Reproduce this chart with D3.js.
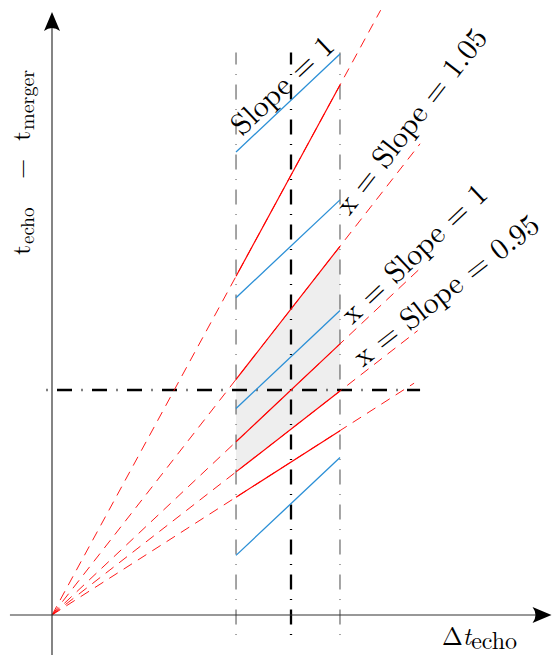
<!DOCTYPE html>
<html>
<head>
<meta charset="utf-8">
<script src="https://cdn.jsdelivr.net/npm/d3@7"></script>
<style>
  html, body { margin: 0; padding: 0; background: #fff; }
  svg { display: block; }
</style>
</head>
<body>
<svg id="chart" width="553" height="656"></svg>
<script>
// ---------------- data (schematic units: x = Δt_echo, y = t_echo − t_merger) ----------------
const bandEdges = [0.77, 1.0, 1.205];            // left thin, centre thick, right thin dash-dot verticals
const bandYRange = [-0.089, 2.5];                // vertical extent of the dash-dot verticals
const refLevel = 1.0;                            // horizontal thick dash-dot line
const refXRange = [-0.023, 1.54];
const rayNames = ["ray1", "ray2", "ray3", "ray4", "ray5"];
const raySlopes = [1.955, 1.36, 1.0, 0.826, 0.68];
const rayEndX = [1.375, 1.54, 1.54, 1.53, 1.515];
const blueNames = ["blue1", "blue2", "blue3", "blue4"];
const blueStartY = [2.058, 1.41, 0.918, 0.265];  // value at left band edge
const blueSlope = 1;
const shadeBetween = ["ray2", "ray4"];
const labelTexts = ["Slope = 1", "x = Slope = 1.05", "x = Slope = 1", "x = Slope = 0.95"];
const labelLines = ["blue1", "ray2", "ray3", "ray4"];
const labelAtX = [1.012, 1.572, 1.558, 1.686];
const xAxisRange = [-0.176, 2.09];
const yAxisRange = [-0.178, 2.68];

// ---------------- layout ----------------
const svg = d3.select("#chart");
const x = d3.scaleLinear().domain([0, 1]).range([52, 291]);
const y = d3.scaleLinear().domain([0, 1]).range([615, 390]);
const RED = "#ff0000", BLUE = "#2a8fd6";
const FONT = '"Latin Modern Roman", "Liberation Serif", serif';

const lines = {};
rayNames.forEach((n, i) => lines[n] = { f: v => raySlopes[i] * v });
blueNames.forEach((n, i) => lines[n] = { f: v => blueStartY[i] + blueSlope * (v - bandEdges[0]) });

const L = bandEdges[0], R = bandEdges[2];

// shaded region
const lo = lines[shadeBetween[1]].f, hi = lines[shadeBetween[0]].f;
svg.append("path")
  .attr("d", d3.line()([[x(L), y(hi(L))], [x(R), y(hi(R))], [x(R), y(lo(R))], [x(L), y(lo(L))]]) + "Z")
  .attr("fill", "#eeeeee").attr("stroke", "none");

// vertical dash-dot lines (drawn from bottom upwards)
svg.selectAll("line.vband").data(bandEdges).join("line")
  .attr("class", "vband")
  .attr("x1", d => x(d)).attr("x2", d => x(d))
  .attr("y1", y(bandYRange[0])).attr("y2", y(bandYRange[1]))
  .attr("stroke", (d, i) => i === 1 ? "#000" : "#4a4a4a")
  .attr("stroke-width", (d, i) => i === 1 ? 2.3 : 1)
  .attr("stroke-dasharray", "1,9.5,15,9.5");

// horizontal reference line
svg.append("line")
  .attr("x1", x(refXRange[0])).attr("x2", x(refXRange[1]))
  .attr("y1", y(refLevel)).attr("y2", y(refLevel))
  .attr("stroke", "#000").attr("stroke-width", 2.3)
  .attr("stroke-dasharray", "1,9.5,15,9.5");

// dashed red rays from origin
svg.selectAll("line.ray").data(rayNames).join("line")
  .attr("class", "ray")
  .attr("x1", x(0)).attr("y1", y(0))
  .attr("x2", (d, i) => x(rayEndX[i])).attr("y2", (d, i) => y(raySlopes[i] * rayEndX[i]))
  .attr("stroke", RED).attr("stroke-width", 0.9)
  .attr("stroke-dasharray", "10,7");

// solid red segments inside the band
svg.selectAll("line.rseg").data(rayNames).join("line")
  .attr("class", "rseg")
  .attr("x1", x(L)).attr("y1", d => y(lines[d].f(L)))
  .attr("x2", x(R)).attr("y2", d => y(lines[d].f(R)))
  .attr("stroke", RED).attr("stroke-width", 1.2);

// blue slope-1 segments
svg.selectAll("line.blue").data(blueNames).join("line")
  .attr("class", "blue")
  .attr("x1", x(L)).attr("y1", d => y(lines[d].f(L)))
  .attr("x2", x(R)).attr("y2", d => y(lines[d].f(R)))
  .attr("stroke", BLUE).attr("stroke-width", 1.3);

// axes
const ax = svg.append("g");
ax.append("line").attr("x1", x(xAxisRange[0])).attr("x2", x(xAxisRange[1]) - 6)
  .attr("y1", y(0)).attr("y2", y(0)).attr("stroke", "#333").attr("stroke-width", 1.2);
ax.append("line").attr("x1", x(0)).attr("x2", x(0))
  .attr("y1", y(yAxisRange[0])).attr("y2", y(yAxisRange[1]) + 6).attr("stroke", "#333").attr("stroke-width", 1.2);
function arrow(tx, ty, rot) {
  ax.append("path")
    .attr("d", "M0,0 L-19,-8 Q-13,0 -19,8 Z")
    .attr("transform", `translate(${tx},${ty}) rotate(${rot})`)
    .attr("fill", "#000");
}
arrow(x(xAxisRange[1]), y(0), 0);
arrow(x(0), y(yAxisRange[1]), -90);

// sloped labels
const offsets = [16, 20, 14, 13.5];
labelTexts.forEach((t, i) => {
  const ln = lines[labelLines[i]];
  const vx = labelAtX[i];
  const px = x(vx), py = y(ln.f(vx));
  const ang = Math.atan2(y(ln.f(vx + 0.1)) - py, x(vx + 0.1) - px);
  const ux = Math.sin(ang), uy = -Math.cos(ang);
  const cx = px + ux * offsets[i], cy = py + uy * offsets[i];
  svg.append("text")
    .attr("transform", `translate(${cx},${cy}) rotate(${ang * 180 / Math.PI})`)
    .attr("text-anchor", "middle").attr("dy", "0.3em")
    .style("font-family", FONT).style("font-size", "30px").attr("fill", "#000")
    .text(t);
});

// y-axis label (rotated, reading upward)
const yl = svg.append("text")
  .attr("transform", "translate(30,255) rotate(-90)")
  .style("font-family", FONT).style("font-size", "26px").attr("fill", "#000");
yl.append("tspan").attr("x", 0).attr("y", 0).text("t");
yl.append("tspan").attr("x", 11).attr("y", 4).style("font-size", "19px").text("echo");
yl.append("tspan").attr("x", 76).attr("y", 0).text("\u2212");
yl.append("tspan").attr("x", 114).attr("y", 0).text("t");
yl.append("tspan").attr("x", 125).attr("y", 4).style("font-size", "20px").text("merger");

// x-axis label
const xl = svg.append("text")
  .attr("x", 442).attr("y", 645)
  .style("font-family", FONT).style("font-size", "25px").attr("fill", "#000");
xl.append("tspan").text("\u0394");
xl.append("tspan").style("font-style", "italic").text("t");
xl.append("tspan").attr("dy", 4).style("font-size", "24px").text("echo");
</script>
</body>
</html>
